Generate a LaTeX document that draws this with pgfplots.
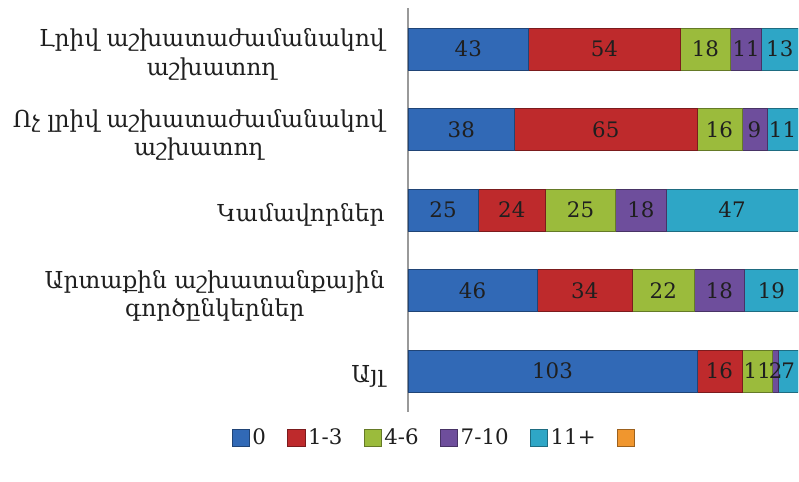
\documentclass[border=0pt]{standalone}
\usepackage{pgfplots}
\pgfplotsset{compat=1.18}
\usepackage{fontspec}
\setmainfont{DejaVu Serif}
\usetikzlibrary{calc}
\definecolor{cA}{HTML}{3169B6}
\definecolor{cB}{HTML}{BE2A2C}
\definecolor{cC}{HTML}{9BBB3C}
\definecolor{cD}{HTML}{6E4E9C}
\definecolor{cE}{HTML}{2EA6C6}
\definecolor{cF}{HTML}{F0962E}
\tikzset{
  bev/.style={fill=#1, draw=#1!65!black, line width=0.5pt},
}
\begin{document}
\begin{tikzpicture}
\begin{axis}[
  xbar stacked,
  scale only axis,
  width=292.5pt, height=303pt,
  xmin=0, xmax=139,
  ymin=-0.51, ymax=4.51,
  y dir=reverse,
  bar width=0.52,
  axis x line=none,
  axis y line*=left,
  y axis line style={draw=black!40, line width=0.8pt, -},
  ytick={0,1,2,3,4},
  major tick length=0pt,
  yticklabels={{Լրիվ աշխատաժամանակով\\աշխատող},{Ոչ լրիվ աշխատաժամանակով\\աշխատող},{Կամավորներ},{Արտաքին աշխատանքային\\գործընկերներ},{Այլ}},
  yticklabel style={align=center, font=\fontsize{17.5}{21.5}\selectfont, text=black!88, xshift=-14pt, yshift=-4pt},
  point meta=rawx,
  nodes near coords,
  /pgf/number format/assume math mode=true,
  nodes near coords style={anchor=center, font=\fontsize{16}{18}\selectfont, text=black!88},
  legend style={at={(0.072,-0.064)}, anchor=center, draw=none, legend columns=-1,
    font=\fontsize{16}{18}\selectfont, text=black!88,
    /tikz/every even column/.append style={column sep=14pt}},
  legend image code/.code={\path[#1] (0pt,-6.5pt) rectangle (13pt,6.5pt);},
]
\addplot[bev=cA] coordinates {(43,0) (38,1) (25,2) (46,3) (103,4)};
\addlegendentry{0}
\addplot[bev=cB] coordinates {(54,0) (65,1) (24,2) (34,3) (16,4)};
\addlegendentry{1-3}
\addplot[bev=cC] coordinates {(18,0) (16,1) (25,2) (22,3) (11,4)};
\addlegendentry{4-6}
\addplot[bev=cD] coordinates {(11,0) (9,1) (18,2) (18,3) (2,4)};
\addlegendentry{7-10}
\addplot[bev=cE] coordinates {(13,0) (11,1) (47,2) (19,3) (7,4)};
\addlegendentry{11+}
\addlegendimage{bev=cF}
\addlegendentry{}
\end{axis}
\pgfresetboundingbox
\path ($(current axis.south west)+(-306pt,-51.75pt)$) rectangle ($(current axis.north east)+(0.75pt,6pt)$);
\end{tikzpicture}
\end{document}
